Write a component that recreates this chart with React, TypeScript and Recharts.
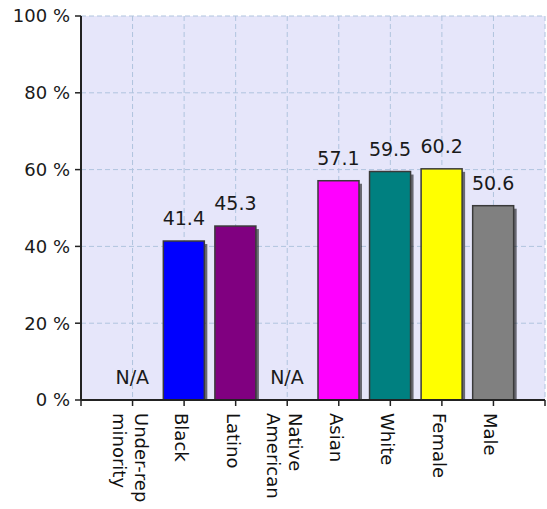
import React from "react";
import { BarChart, Bar, XAxis, YAxis, CartesianGrid, Cell, LabelList } from "recharts";

const CATEGORIES: string[] = [
  "Under-rep\nminority",
  "Black",
  "Latino",
  "Native\nAmerican",
  "Asian",
  "White",
  "Female",
  "Male",
];
const VALUES: (number | null)[] = [null, 41.4, 45.3, null, 57.1, 59.5, 60.2, 50.6];
const COLORS: string[] = ["#808080", "#0000FF", "#800080", "#808080", "#FF00FF", "#008080", "#FFFF00", "#808080"];
const Y_TICKS: number[] = [0, 20, 40, 60, 80, 100];
const X_TICKS: number[] = [0, 1, 2, 3, 4, 5, 6, 7, 8, 9];

const FONT = "'DejaVu Sans', 'Liberation Sans', sans-serif";

const table = CATEGORIES.map((name, i) => ({
  pos: i + 1,
  name,
  value: VALUES[i] == null ? 0 : (VALUES[i] as number),
  label: VALUES[i] == null ? "N/A" : (VALUES[i] as number).toFixed(1),
}));

const BarShape = (props: any) => {
  const { x, y, width, height, fill } = props;
  if (!height || height <= 0) return null;
  return (
    <g>
      <rect x={x + 3} y={y + 3} width={width} height={Math.max(0, height - 3)} fill="rgba(0,0,0,0.55)" />
      <rect x={x} y={y} width={width} height={height} fill={fill} stroke="#3a3a3a" strokeWidth={1.5} />
    </g>
  );
};

const XTick = (props: any) => {
  const { x, y, payload } = props;
  const idx = payload.value - 1;
  if (idx < 0 || idx >= CATEGORIES.length) return null;
  const lines = CATEGORIES[idx].split("\n");
  const n = lines.length;
  return (
    <g transform={`translate(${x},${y + 5})`}>
      <text transform="rotate(90)" fontFamily={FONT} fontSize={18} fill="#111" textAnchor="start">
        {lines.map((l, i) => (
          <tspan key={i} x={0} y={9 + (i - (n - 1) / 2) * 22}>
            {l}
          </tspan>
        ))}
      </text>
    </g>
  );
};

export default function App() {
  return (
    <div style={{ position: "absolute", left: 0, top: 0, width: 547, height: 509, background: "#fff" }}>
      <BarChart width={547} height={509} data={table} margin={{ top: 16, right: 2, bottom: 0, left: 0 }}>
        <CartesianGrid fill="#E6E6FA" stroke="#B0C4DE" strokeDasharray="5 3" />
        <XAxis
          dataKey="pos"
          type="number"
          domain={[0, 9]}
          ticks={X_TICKS}
          interval={0}
          height={109}
          tick={<XTick />}
          tickSize={6}
          tickMargin={2}
          axisLine={{ stroke: "#222", strokeWidth: 2 }}
          tickLine={{ stroke: "#222", strokeWidth: 1.5 }}
          allowDecimals={false}
        />
        <YAxis
          type="number"
          domain={[0, 100]}
          ticks={Y_TICKS}
          width={81}
          tickFormatter={(v: number) => `${v} %`}
          tick={{ fontFamily: FONT, fontSize: 18, fill: "#1a1a1a" }}
          tickSize={6}
          tickMargin={5}
          axisLine={{ stroke: "#222", strokeWidth: 2 }}
          tickLine={{ stroke: "#222", strokeWidth: 1.5 }}
        />
        <Bar dataKey="value" barSize={41} isAnimationActive={false} shape={<BarShape />}>
          {table.map((d, i) => (
            <Cell key={i} fill={COLORS[i]} />
          ))}
          <LabelList
            dataKey="label"
            position="top"
            offset={16}
            style={{ fontFamily: FONT, fontSize: 19, fill: "#1a1a1a" }}
          />
        </Bar>
      </BarChart>
    </div>
  );
}
